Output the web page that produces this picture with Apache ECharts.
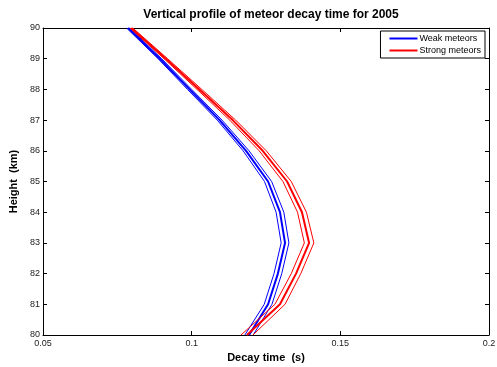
<!DOCTYPE html>
<html><head><meta charset="utf-8">
<script src="https://cdn.jsdelivr.net/npm/echarts@6/dist/echarts.min.js"></script>
<style>html,body{margin:0;padding:0;background:#fff}#c{width:497px;height:367px}</style>
</head><body><div id="c"></div>
<script>
var heights = [90, 89, 88, 87, 86, 85, 84, 83, 82, 81, 80];
var weakMean  = [0.0786, 0.0893, 0.0993, 0.1094, 0.1183, 0.1257, 0.1297, 0.1314, 0.1290, 0.1257, 0.1193];
var weakLow   = [0.0781, 0.0887, 0.0986, 0.1086, 0.1173, 0.1245, 0.1284, 0.1301, 0.1277, 0.1244, 0.1179];
var weakHigh  = [0.0791, 0.0899, 0.1000, 0.1102, 0.1193, 0.1269, 0.1310, 0.1327, 0.1303, 0.1270, 0.1207];
var strongMean = [0.0797, 0.0913, 0.1026, 0.1138, 0.1239, 0.1321, 0.1371, 0.1395, 0.1351, 0.1297, 0.1186];
var strongLow  = [0.0792, 0.0907, 0.1018, 0.1128, 0.1227, 0.1307, 0.1356, 0.1379, 0.1335, 0.1280, 0.1166];
var strongHigh = [0.0802, 0.0919, 0.1034, 0.1148, 0.1251, 0.1335, 0.1386, 0.1411, 0.1367, 0.1314, 0.1206];
var xTicks = [0.05, 0.1, 0.15, 0.2];

function pairs(xs){ return xs.map(function(v,i){ return [v, heights[i]]; }); }
var FONT = 'Liberation Sans, Arial, sans-serif';
function ser(name, vals, color, w){
  return {name:name, type:'line', data:pairs(vals), symbol:'none', showSymbol:false,
    lineStyle:{color:color, width:w}, itemStyle:{color:color}, silent:true, animation:false};
}
var chart = echarts.init(document.getElementById('c'), null, {renderer:'canvas'});
chart.setOption({
  animation:false,
  title:{text:'Vertical profile of meteor decay time for 2005', left:266, textAlign:'center', top:4,
    textStyle:{fontFamily:FONT, fontSize:12, fontWeight:'bold', color:'#000'}},
  grid:{left:43, right:8, top:28, bottom:32, show:false, containLabel:false, outerBoundsMode:'none'},
  legend:{data:[{name:'Weak meteors'},{name:'Strong meteors'}], orient:'vertical', right:12, top:31,
    itemWidth:28, itemHeight:2, itemGap:3, icon:'rect', borderColor:'#000', borderWidth:1, padding:[3,4,3,9],
    backgroundColor:'#fff', textStyle:{fontFamily:FONT, fontSize:9, color:'#000', padding:[0,0,0,-3]}},
  xAxis:[{type:'value', min:0.05, max:0.2, interval:0.05, position:'bottom',
    axisLine:{show:true, lineStyle:{color:'#000', width:1}},
    axisTick:{show:true, inside:true, length:4, lineStyle:{color:'#000'}},
    axisLabel:{fontFamily:FONT, fontSize:9, color:'#222', margin:4,
      formatter:function(v){ var t = xTicks.find(function(x){return Math.abs(x-v)<1e-9;}); return t===undefined?'':String(t); }},
    splitLine:{show:false},
    name:'Decay time  (s)', nameLocation:'middle', nameGap:17,
    nameTextStyle:{fontFamily:FONT, fontSize:11, fontWeight:'bold', color:'#000'}},
   {type:'value', min:0.05, max:0.2, interval:0.05, position:'top',
    axisLine:{show:true, lineStyle:{color:'#000', width:1}},
    axisTick:{show:true, inside:true, length:4, lineStyle:{color:'#000'}},
    axisLabel:{show:false}, splitLine:{show:false}}],
  yAxis:[{type:'value', min:80, max:90, interval:1, position:'left',
    axisLine:{show:true, lineStyle:{color:'#000', width:1}},
    axisTick:{show:true, inside:true, length:4, lineStyle:{color:'#000'}},
    axisLabel:{fontFamily:FONT, fontSize:9, color:'#222', margin:3},
    splitLine:{show:false},
    name:'Height  (km)', nameLocation:'middle', nameGap:22,
    nameTextStyle:{fontFamily:FONT, fontSize:11, fontWeight:'bold', color:'#000'}},
   {type:'value', min:80, max:90, interval:1, position:'right',
    axisLine:{show:true, lineStyle:{color:'#000', width:1}},
    axisTick:{show:true, inside:true, length:4, lineStyle:{color:'#000'}},
    axisLabel:{show:false}, splitLine:{show:false}}],
  series:[
    ser('weakLow', weakLow, '#0000ff', 1),
    ser('weakHigh', weakHigh, '#0000ff', 1),
    ser('Weak meteors', weakMean, '#0000ff', 2),
    ser('strongLow', strongLow, '#ff0000', 1),
    ser('strongHigh', strongHigh, '#ff0000', 1),
    ser('Strong meteors', strongMean, '#ff0000', 2)
  ]
});
</script></body></html>
